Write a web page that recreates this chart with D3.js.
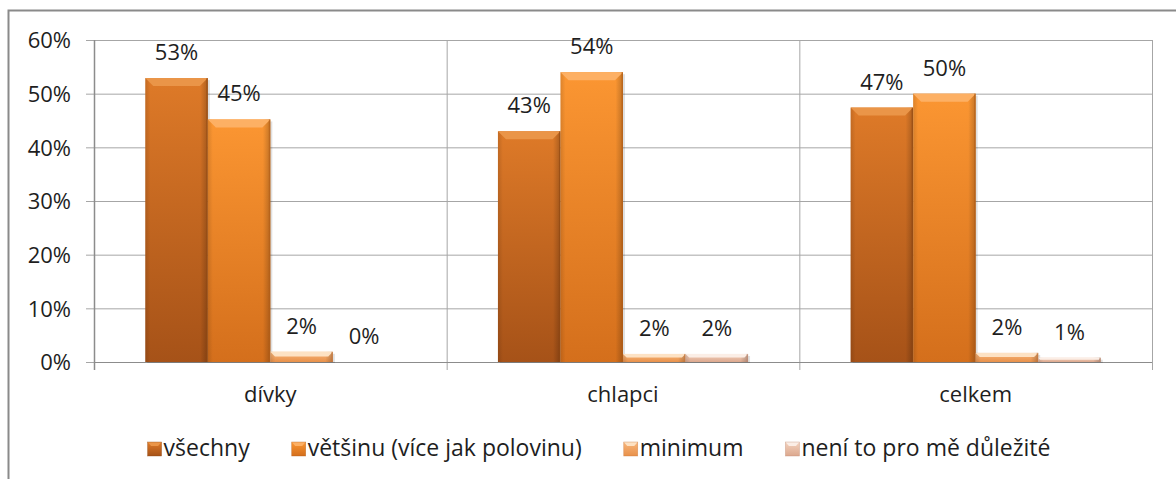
<!DOCTYPE html>
<html>
<head>
<meta charset="utf-8">
<script src="https://cdn.jsdelivr.net/npm/d3@7"></script>
<style>
  body { margin: 0; background: #fff; }
  text { font-family: "Open Sans", "Noto Sans", sans-serif; fill: #1e1e1e; }
</style>
</head>
<body>
<div id="chart"></div>
<script>
// data
const categories = ["dívky", "chlapci", "celkem"];
const seriesNames = ["všechny", "většinu (více jak polovinu)", "minimum", "není to pro mě důležité"];
const vsechny = [52.9, 43.0, 47.4];
const vetsinu = [45.2, 54.0, 50.0];
const minimum = [1.9, 1.5, 1.7];
const nedulezite = [0.0, 1.5, 0.8];
const yTicks = [0, 10, 20, 30, 40, 50, 60];

const series = [vsechny, vetsinu, minimum, nedulezite];

// colours per series: top, bottom, bevel
const palette = [
  { top: "#de7a28", bottom: "#a65218", bevel: "#ea9548", edge: "#8f4713" },
  { top: "#fb9632", bottom: "#d46f1c", bevel: "#fdb064", edge: "#b35e17" },
  { top: "#f8b67c", bottom: "#e8914a", bevel: "#fde2c4", edge: "#c9773a" },
  { top: "#f3d2be", bottom: "#dca88e", bevel: "#fbeee6", edge: "#bf8a72" }
];

const W = 1176, H = 479;
const FS = 22;
const margin = { left: 94, right: W - 1152, top: 40, bottom: H - 362 };

const svg = d3.select("#chart").append("svg")
  .attr("width", W)
  .attr("height", H);

const defs = svg.append("defs");
palette.forEach((p, i) => {
  const g = defs.append("linearGradient")
    .attr("id", "grad" + i)
    .attr("x1", 0).attr("y1", 0).attr("x2", 0).attr("y2", 1);
  g.append("stop").attr("offset", "0%").attr("stop-color", p.top);
  g.append("stop").attr("offset", "100%").attr("stop-color", p.bottom);
  const h = defs.append("linearGradient")
    .attr("id", "side" + i)
    .attr("x1", 0).attr("y1", 0).attr("x2", 1).attr("y2", 0);
  h.append("stop").attr("offset", "0%").attr("stop-color", "#000").attr("stop-opacity", 0.12);
  h.append("stop").attr("offset", "8%").attr("stop-color", "#000").attr("stop-opacity", 0);
  h.append("stop").attr("offset", "88%").attr("stop-color", "#000").attr("stop-opacity", 0);
  h.append("stop").attr("offset", "100%").attr("stop-color", "#000").attr("stop-opacity", 0.22);
});

// outer frame
svg.append("rect")
  .attr("x", 8.5).attr("y", 10.5)
  .attr("width", W + 20).attr("height", H + 20)
  .attr("fill", "none")
  .attr("stroke", "#8a8a8a")
  .attr("stroke-width", 2);

const x0 = d3.scaleBand()
  .domain(categories)
  .range([margin.left, W - margin.right])
  .paddingInner(0).paddingOuter(0);

const x1 = d3.scaleBand()
  .domain(d3.range(series.length))
  .range([0, x0.bandwidth()])
  .paddingInner(0)
  .paddingOuter(0.82);

const y = d3.scaleLinear()
  .domain([0, 60])
  .range([H - margin.bottom, margin.top]);

// horizontal gridlines + ticks
const yAxis = svg.append("g")
  .attr("transform", "translate(" + margin.left + ",0)")
  .call(d3.axisLeft(y).tickValues(yTicks).tickFormat(d => d + "%")
    .tickSize(8).tickSizeInner(-(W - margin.left - margin.right)).tickPadding(0));
yAxis.select(".domain").remove();
yAxis.selectAll(".tick line")
  .attr("x1", -8)
  .attr("stroke", "#a6a6a6");
yAxis.selectAll(".tick text")
  .attr("x", -23)
  .attr("dy", "0.36em")
  .attr("font-size", FS)
  .attr("fill", "#1e1e1e");

// vertical category separators
const sepX = categories.map(c => x0(c)).concat([x0.range()[1]]);
svg.append("g").selectAll("line")
  .data(sepX)
  .join("line")
  .attr("x1", d => d + 0.5).attr("x2", d => d + 0.5)
  .attr("y1", y(60)).attr("y2", y(0) + 8)
  .attr("stroke", (d, i) => i === 0 ? "#8c8c8c" : "#a6a6a6")
  .attr("stroke-width", (d, i) => i === 0 ? 1.5 : 1);

// baseline
svg.append("line")
  .attr("x1", margin.left).attr("x2", W - margin.right)
  .attr("y1", y(0) + 0.5).attr("y2", y(0) + 0.5)
  .attr("stroke", "#8c8c8c");

// bars
const bars = [];
categories.forEach((c, ci) => {
  series.forEach((s, si) => {
    bars.push({ cat: c, si: si, v: s[ci] });
  });
});

const barG = svg.append("g");
bars.forEach(d => {
  const bx = x0(d.cat) + x1(d.si);
  const bw = x1.bandwidth();
  const by = y(d.v);
  const bh = y(0) - by;
  const p = palette[d.si];
  if (bh <= 0.2) return;
  const g = barG.append("g");
  // soft shadow
  g.append("rect")
    .attr("x", bx + 2).attr("y", by + 2)
    .attr("width", bw).attr("height", bh - 1)
    .attr("fill", "#000").attr("opacity", 0.12);
  g.append("rect")
    .attr("x", bx).attr("y", by)
    .attr("width", bw).attr("height", bh)
    .attr("fill", "url(#grad" + d.si + ")");
  g.append("rect")
    .attr("x", bx).attr("y", by)
    .attr("width", bw).attr("height", bh)
    .attr("fill", "url(#side" + d.si + ")");
  // top bevel
  const bev = Math.min(8, bh * 0.45);
  g.append("path")
    .attr("d", "M" + bx + "," + by + "H" + (bx + bw) + "L" + (bx + bw - bev) + "," + (by + bev) +
      "H" + (bx + bev) + "Z")
    .attr("fill", p.bevel);
  g.append("rect")
    .attr("x", bx + bw - 1.5).attr("y", by)
    .attr("width", 1.5).attr("height", bh)
    .attr("fill", p.edge).attr("opacity", 0.6);
});

// value labels
svg.append("g").selectAll("text")
  .data(bars)
  .join("text")
  .attr("x", d => x0(d.cat) + x1(d.si) + x1.bandwidth() / 2)
  .attr("y", d => y(d.v) - 18)
  .attr("text-anchor", "middle")
  .attr("font-size", FS)
  .text(d => Math.round(d.v) + "%");

// category labels
svg.append("g").selectAll("text")
  .data(categories)
  .join("text")
  .attr("x", d => x0(d) + x0.bandwidth() / 2)
  .attr("y", 402)
  .attr("text-anchor", "middle")
  .attr("font-size", FS)
  .text(d => d);

// legend
const legend = svg.append("g");
const items = legend.selectAll("g")
  .data(seriesNames)
  .join("g");
items.append("text")
  .attr("x", 16)
  .attr("y", 456)
  .attr("font-size", 23)
  .text(d => d);
let cursor = 0;
const gap = 42;
items.each(function () {
  const t = d3.select(this).select("text").node().getComputedTextLength();
  d3.select(this).attr("transform", "translate(" + cursor + ",0)");
  cursor += 16 + t + gap;
});
const total = cursor - gap;
legend.attr("transform", "translate(" + (599 - total / 2) + ",0)");
items.each(function (d, i) {
  const g = d3.select(this);
  const p = palette[i];
  g.insert("rect", "text")
    .attr("x", 0).attr("y", 442)
    .attr("width", 14).attr("height", 14)
    .attr("fill", "url(#grad" + i + ")");
  g.insert("path", "text")
    .attr("d", "M0,442H14L10.5,446H3.5Z")
    .attr("fill", p.bevel);
  g.insert("rect", "text")
    .attr("x", 0).attr("y", 442)
    .attr("width", 14).attr("height", 14)
    .attr("fill", "none")
    .attr("stroke", p.edge).attr("stroke-width", 0.6).attr("opacity", 0.6);
});
</script>
</body>
</html>
